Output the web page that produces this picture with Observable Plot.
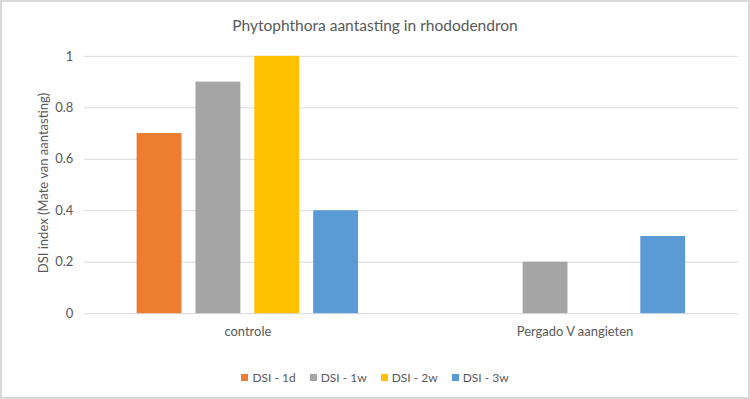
<!DOCTYPE html>
<html>
<head>
<meta charset="utf-8">
<script src="https://cdn.jsdelivr.net/npm/d3@7"></script>
<script src="https://cdn.jsdelivr.net/npm/@observablehq/plot@0.6"></script>
<style>
  html, body { margin: 0; padding: 0; background: #fff; }
  #chart { position: relative; width: 750px; height: 399px; box-sizing: border-box; border: 2px solid #d9d9d9; overflow: hidden; font-family: Lato, "Open Sans", sans-serif; color: #595959; }
  #title { position: absolute; left: 0; width: 746px; top: 14px; text-align: center; font-size: 15.5px; }
  #ylabel { position: absolute; left: 41px; top: 181px; transform: translate(-50%, -50%) rotate(-90deg); white-space: nowrap; font-size: 13px; }
  #plot { position: absolute; left: -2px; top: -2px; }
  #legend { position: absolute; top: 368px; left: 0; width: 746px; display: flex; justify-content: center; gap: 14px; font-size: 12px; }
  .item { display: flex; align-items: center; }
  .sw { width: 7px; height: 7px; margin-right: 4px; display: inline-block; }
</style>
</head>
<body>
<div id="chart">
  <div id="title"></div>
  <div id="ylabel"></div>
  <div id="plot"></div>
  <div id="legend"></div>
</div>
<script>
const title = "Phytophthora aantasting in rhododendron";
const yLabel = "DSI index (Mate van aantasting)";
const categories = ["controle", "Pergado V aangieten"];
const series = ["DSI - 1d", "DSI - 1w", "DSI - 2w", "DSI - 3w"];
const colors = ["#ED7D31", "#A5A5A5", "#FFC000", "#5B9BD5"];
const controleValues = [0.7, 0.9, 1.0, 0.4];
const pergadoValues = [0, 0.2, 0, 0.3];
const yTicks = [0, 0.2, 0.4, 0.6, 0.8, 1];

const valuesByCategory = [controleValues, pergadoValues];
const data = [];
categories.forEach((c, i) => series.forEach((s, j) => data.push({cat: c, series: s, value: valuesByCategory[i][j]})));

document.getElementById("title").textContent = title;
document.getElementById("ylabel").textContent = yLabel;

const fmt = d => String(+d.toFixed(1));

const chart = Plot.plot({
  width: 750,
  height: 350,
  marginLeft: 83,
  marginRight: 10,
  marginTop: 56,
  marginBottom: 36,
  style: {fontFamily: "Lato, 'Open Sans', sans-serif", fontSize: "13px", color: "#595959", background: "transparent"},
  fx: {domain: categories, padding: 0, label: null},
  x: {domain: series, axis: null, paddingInner: 0.23, paddingOuter: 0.87},
  y: {domain: [0, 1], label: null},
  color: {domain: series, range: colors},
  marks: [
    Plot.gridY(yTicks, {stroke: "#d9d9d9", strokeOpacity: 1}),
    Plot.barY(data, {fx: "cat", x: "series", y: "value", fill: "series"}),
    Plot.axisY(yTicks, {tickSize: 0, tickPadding: 11, tickFormat: fmt, label: null}),
    Plot.axisFx({tickSize: 0, tickPadding: 13, label: null, anchor: "bottom"})
  ]
});
document.getElementById("plot").appendChild(chart);

const legend = document.getElementById("legend");
series.forEach((s, i) => {
  const it = document.createElement("div");
  it.className = "item";
  const sw = document.createElement("span");
  sw.className = "sw";
  sw.style.background = colors[i];
  it.appendChild(sw);
  it.appendChild(document.createTextNode(s));
  legend.appendChild(it);
});
</script>
</body>
</html>
